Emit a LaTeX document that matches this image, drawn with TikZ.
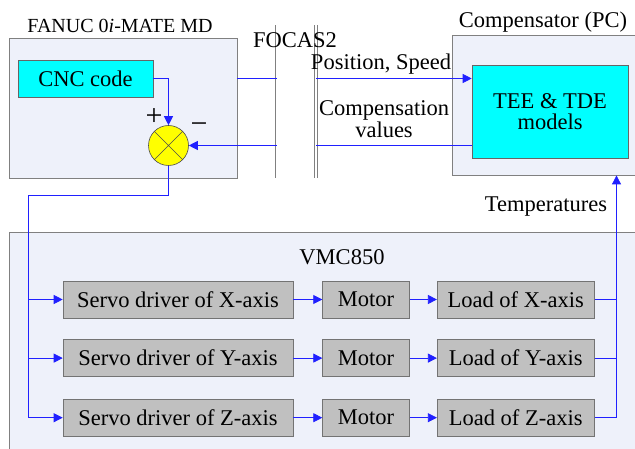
\documentclass[tikz,border=0pt]{standalone}
\usepackage{fontspec}
\setmainfont{Liberation Serif}
\usepackage{tikz}
\usetikzlibrary{positioning,arrows.meta}
\definecolor{panelfill}{HTML}{EEF1FA}
\definecolor{boxgray}{HTML}{C0C0C0}
\definecolor{codecyan}{HTML}{00FFFF}
\definecolor{sumyellow}{HTML}{FFFF00}
\definecolor{linkblue}{HTML}{2020FF}
\tikzset{
  panel/.style={draw=gray,line width=0.8pt,fill=panelfill,inner sep=0pt},
  codebox/.style={draw=gray!80!black,line width=0.6pt,fill=codecyan,align=center,inner sep=0pt},
  axisbox/.style={draw=gray!90!black,line width=0.6pt,fill=boxgray,minimum height=37pt,inner sep=0pt},
  sumnode/.style={circle,draw=gray!60!black,line width=0.6pt,fill=sumyellow,minimum size=40pt,inner sep=0pt},
  sumcross/.style={draw=gray!60!black,line width=0.6pt},
  link/.style={draw=linkblue,line width=0.8pt},
  arr/.style={link,-{Triangle[length=9pt,width=9pt]}},
  bus/.style={draw=gray,line width=0.8pt,double=white,double distance=1.8pt},
  txt/.style={inner sep=0pt,align=center},
  sign/.style={inner sep=0pt,font=\fontsize{30}{30}\selectfont}
}

\begin{document}
\begin{tikzpicture}[x=1pt,y=-1pt,node distance=28pt,
  every node/.style={font=\fontsize{22.5}{21.5}\selectfont}]
\useasboundingbox (0,0) rectangle (635,449);
% panels
\node[panel,minimum width=228pt,minimum height=140pt] (fanuc) at (123,108) {};
\node[txt,font=\fontsize{20}{22}\selectfont] (fanuctitle) at (120,26) {FANUC 0\textit{i}-MATE MD};
\node[panel,minimum width=183pt,minimum height=140pt] (comp) at (543.5,105) {};
\node[txt] (comptitle) at (543,22) {Compensator (PC)};
\node[panel,minimum width=640pt,minimum height=230pt,anchor=north west] (vmc) at (9,232) {};
\node[txt] (vmctitle) at (342,257) {VMC850};

% controller side
\node[codebox,minimum width=135pt,minimum height=37pt] (cnc) at (85.5,78.5) {CNC code};
\node[sumnode] (sum) at (168.5,145.5) {};
\draw[sumcross] (sum.north west) -- (sum.south east) (sum.north east) -- (sum.south west);
\node[sign] (plus) at (154,117) {+};
\node[sign] (minus) at (199,128) {−};
\node[codebox,minimum width=156pt,minimum height=93pt] (tee) at (550,111.5) {TEE \& TDE\\models};

% FOCAS2 link
\coordinate (focasa) at (276.7,25);
\coordinate (focasb) at (315.8,25);
\draw[bus] (focasa) -- ++(0,153);
\draw[bus] (focasb) -- ++(0,153);
\node[txt] (focas) at (295,40) {FOCAS2};
\node[txt] (posspeed) at (381,64) {Position, Speed};
\node[txt] (compval) at (384,119) {Compensation\\values};

% axis chains
\node[axisbox,minimum width=230pt] (srvx) at (178,299.5) {Servo driver of X-axis};
\node[axisbox,minimum width=230pt,below=21pt of srvx] (srvy) {Servo driver of Y-axis};
\node[axisbox,minimum width=230pt,below=22pt of srvy] (srvz) {Servo driver of Z-axis};
\node[axisbox,minimum width=87pt,right=29pt of srvx] (motx) {Motor};
\node[axisbox,minimum width=87pt,right=29pt of srvy] (moty) {Motor};
\node[axisbox,minimum width=87pt,right=29pt of srvz] (motz) {Motor};
\node[axisbox,minimum width=157pt,right=27pt of motx] (loadx) {Load of X-axis};
\node[axisbox,minimum width=157pt,right=27pt of moty] (loady) {Load of Y-axis};
\node[axisbox,minimum width=157pt,right=27pt of motz] (loadz) {Load of Z-axis};
\coordinate (split) at (28,195);
\coordinate (gather) at (616.5,449);
\node[txt] (temps) at (546,207) {Temperatures};

% connectors
\draw[arr] (cnc.east) -| (sum.north);
\draw[link] (fanuc.east |- cnc.east) -- (focasa |- cnc.east);
\draw[arr] (focasb |- cnc.east) -- (tee.west |- cnc.east);
\draw[link] (tee.west |- sum.east) -- (focasb |- sum.east);
\draw[arr] (focasa |- sum.east) -- (sum.east);
\draw[link] (sum.south) |- (split) -- (split |- srvz.west);
\draw[arr] (split |- srvx.west) -- (srvx.west);
\draw[arr] (split |- srvy.west) -- (srvy.west);
\draw[arr] (split |- srvz.west) -- (srvz.west);
\draw[arr] (srvx) -- (motx);
\draw[arr] (srvy) -- (moty);
\draw[arr] (srvz) -- (motz);
\draw[arr] (motx) -- (loadx);
\draw[arr] (moty) -- (loady);
\draw[arr] (motz) -- (loadz);
\draw[link] (loadx.east) -- (gather |- loadx.east);
\draw[link] (loady.east) -- (gather |- loady.east);
\draw[arr] (loadz.east) -| (gather |- comp.south);
\end{tikzpicture}
\end{document}
